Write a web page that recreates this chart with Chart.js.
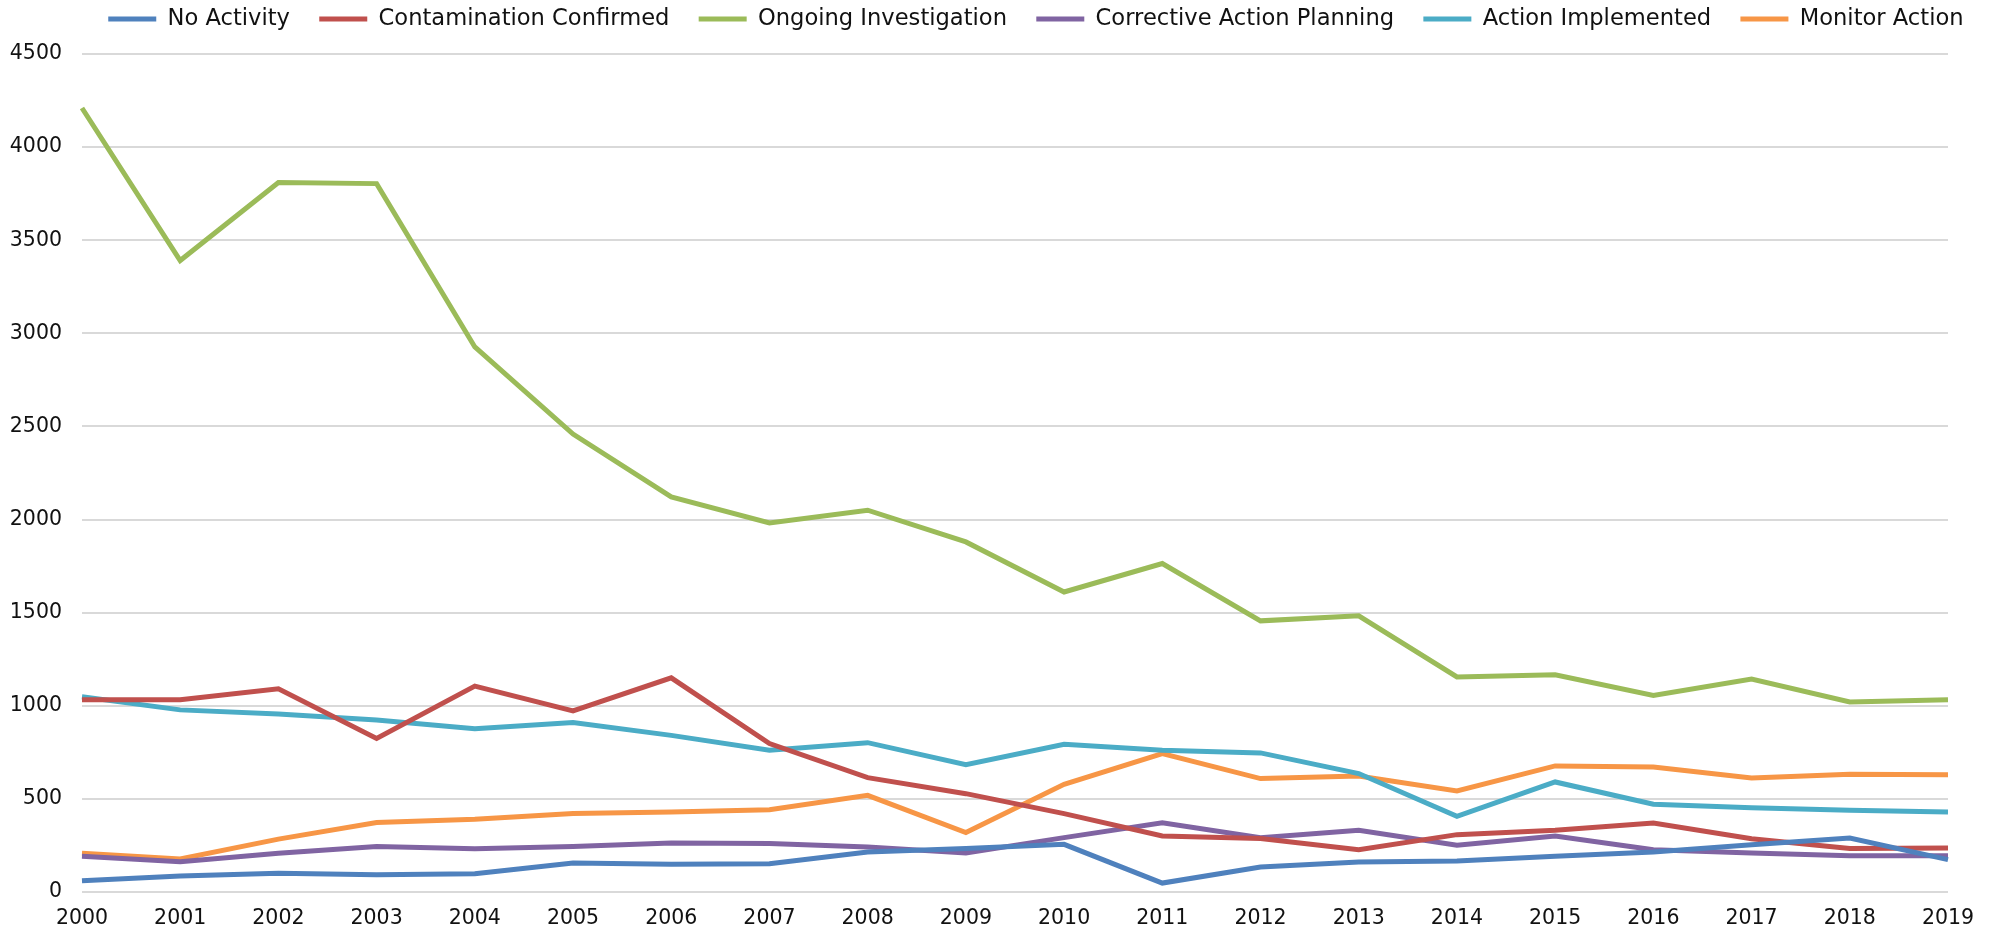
<!DOCTYPE html>
<html>
<head>
<meta charset="utf-8">
<script src="https://cdn.jsdelivr.net/npm/chart.js@4"></script>
<style>
    html, body { margin: 0; padding: 0; background: #fff; }
    #wrap { width: 1996px; height: 934px; position: relative; }
</style>
</head>
<body>
<div id="wrap"><canvas id="trendChart"></canvas></div>
<script>
// Years on the x axis
const years = ['2000', '2001', '2002', '2003', '2004', '2005', '2006', '2007', '2008', '2009',
    '2010', '2011', '2012', '2013', '2014', '2015', '2016', '2017', '2018', '2019'];

// Series values
const noActivity = [61, 86, 101, 92, 98, 156, 149, 152, 215, 233, 256, 48, 134, 161, 167, 192, 215, 254, 290, 174];
const contaminationConfirmed = [1033, 1033, 1091, 825, 1106, 972, 1150, 797, 614, 528, 421, 301, 287, 227, 308, 331, 371, 286, 233, 236];
const ongoingInvestigation = [4210, 3391, 3810, 3804, 2927, 2459, 2122, 1982, 2050, 1880, 1611, 1764, 1456, 1483, 1155, 1167, 1056, 1144, 1020, 1033];
const correctiveActionPlanning = [192, 162, 208, 244, 232, 244, 263, 260, 242, 209, 292, 372, 292, 331, 251, 301, 227, 209, 195, 195];
const actionImplemented = [1048, 978, 956, 923, 877, 910, 841, 761, 802, 684, 793, 761, 747, 636, 406, 591, 471, 453, 439, 430];
const monitorAction = [208, 177, 284, 373, 391, 422, 430, 442, 519, 319, 578, 743, 609, 623, 543, 677, 671, 612, 632, 630];

// Y axis ticks
const yMin = 0;
const yMax = 4500;
const yStep = 500;

const LEGEND_HEIGHT = 54;    // space kept above the plot
const LEGEND_CENTER_Y = 19;  // vertical middle of the legend row
const LEGEND_SHIFT_X = 67;   // Excel centres its legend a bit right of the canvas
const LEGEND_PAD = 29.3;
const LEGEND_FONT = 22.6;

function makeSeries(label, data, color) {
    return {
        label: label,
        data: data,
        borderColor: color,
        backgroundColor: color,
        borderWidth: 5,
        pointRadius: 0,
        pointHoverRadius: 0,
        tension: 0,
        fill: false
    };
}

// Keep the legend row compact but with wide gaps between entries
const legendPlacement = {
    id: 'legendPlacement',
    beforeLayout(chart) {
        const legend = chart.legend;
        if (legend && !legend._fitWrapped) {
            const fit = legend.fit.bind(legend);
            legend.fit = function () {
                fit();
                this.height = LEGEND_HEIGHT;
            };
            legend._fitWrapped = true;
        }
    },
    afterLayout(chart) {
        const legend = chart.legend;
        if (!legend) return;
        legend.top = LEGEND_CENTER_Y - LEGEND_PAD - LEGEND_FONT / 2;
        legend.bottom = legend.top + LEGEND_HEIGHT;
        legend.left += LEGEND_SHIFT_X;
        legend.right += LEGEND_SHIFT_X;
    }
};

document.addEventListener('DOMContentLoaded', () => {
    const ctx = document.getElementById('trendChart').getContext('2d');
    new Chart(ctx, {
        type: 'line',
        data: {
            labels: years,
            datasets: [
                makeSeries('No Activity', noActivity, '#4F81BD'),
                makeSeries('Contamination Confirmed', contaminationConfirmed, '#C0504D'),
                makeSeries('Ongoing Investigation', ongoingInvestigation, '#9BBB59'),
                makeSeries('Corrective Action Planning', correctiveActionPlanning, '#8064A2'),
                makeSeries('Action Implemented', actionImplemented, '#4BACC6'),
                makeSeries('Monitor Action', monitorAction, '#F79646')
            ]
        },
        plugins: [legendPlacement],
        options: {
            responsive: true,
            maintainAspectRatio: false,
            animation: false,
            layout: {
                // scales reserve twice their tick padding, so pull the outer edges in
                padding: { left: -10.2, right: 48, top: 0, bottom: -12 }
            },
            plugins: {
                tooltip: { enabled: false },
                legend: {
                    position: 'top',
                    align: 'center',
                    labels: {
                        usePointStyle: true,
                        pointStyle: 'line',
                        pointStyleWidth: 48,
                        color: '#111',
                        padding: LEGEND_PAD,
                        font: { family: '"DejaVu Sans", Verdana, sans-serif', size: LEGEND_FONT }
                    }
                }
            },
            scales: {
                x: {
                    offset: false,
                    grid: { display: false, drawTicks: false },
                    border: { display: false },
                    ticks: {
                        color: '#111',
                        padding: 14.7,
                        maxRotation: 0,
                        autoSkip: false,
                        font: { family: '"DejaVu Sans", Verdana, sans-serif', size: 20.5 }
                    }
                },
                y: {
                    min: yMin,
                    max: yMax,
                    grid: { color: '#d9d9d9', lineWidth: 2, drawTicks: false },
                    border: { display: false },
                    ticks: {
                        stepSize: yStep,
                        color: '#111',
                        padding: 20,
                        font: { family: '"DejaVu Sans", Verdana, sans-serif', size: 20.5 },
                        callback: (value) => String(value)
                    }
                }
            }
        }
    });
});
</script>
</body>
</html>
